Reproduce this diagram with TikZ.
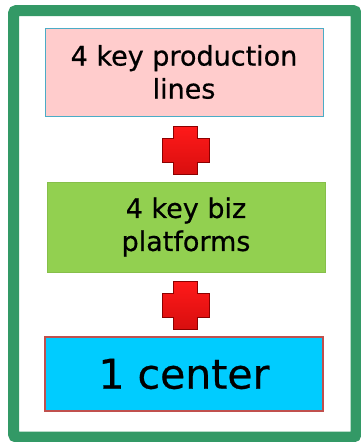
\documentclass[tikz,border=0pt]{standalone}
\usepackage{fontspec}
\setmainfont{DejaVu Sans}
\newfontfamily\boxfont[FakeBold=0.6]{DejaVu Sans}
\definecolor{framegreen}{HTML}{339966}
\definecolor{boxpink}{HTML}{FFCCCC}
\definecolor{edgeblue}{HTML}{4BACC6}
\definecolor{boxgreen}{HTML}{92D050}
\definecolor{edgegreen}{HTML}{86BF4A}
\definecolor{boxcyan}{HTML}{00CCFF}
\definecolor{edgered}{HTML}{C0504D}
\definecolor{plusred}{HTML}{F01010}
\tikzset{
  levelbox/.style={rectangle, minimum width=278pt, align=center, inner sep=0pt,
    font=\boxfont\fontsize{27}{33}\selectfont, text=black},
  plussign/.style={top color=red!90!white, bottom color=plusred!90!black,
    draw=red!55!black, line width=0.6pt}
}
\begin{document}
\begin{tikzpicture}[x=1pt,y=-1pt]
\useasboundingbox (0,0) rectangle (361,442);
\fill[white] (0,0) rectangle (361,442);
\draw[framegreen, line width=11pt, rounded corners=3pt] (13.5,10.5) rectangle (356,437);

\node[levelbox, fill=boxpink, draw=edgeblue, line width=1pt, minimum height=88pt]
  (lines) at (184,72) {4 key production\\lines};
\node[levelbox, fill=boxgreen, draw=edgegreen, line width=1pt, minimum height=90pt]
  (platforms) at (186,227) {4 key biz\\platforms};
\node[levelbox, fill=boxcyan, draw=edgered, line width=1.2pt, minimum height=74pt,
  font=\boxfont\fontsize{41}{44}\selectfont] (center) at (184,374) {1 center};

\foreach \y in {150.5,305}{
  \draw[plussign] (173.5,\y-24) -- (197.5,\y-24) -- (197.5,\y-12) -- (209,\y-12)
    -- (209,\y+12) -- (197.5,\y+12) -- (197.5,\y+24) -- (173.5,\y+24)
    -- (173.5,\y+12) -- (162,\y+12) -- (162,\y-12) -- (173.5,\y-12) -- cycle;
}
\end{tikzpicture}
\end{document}
